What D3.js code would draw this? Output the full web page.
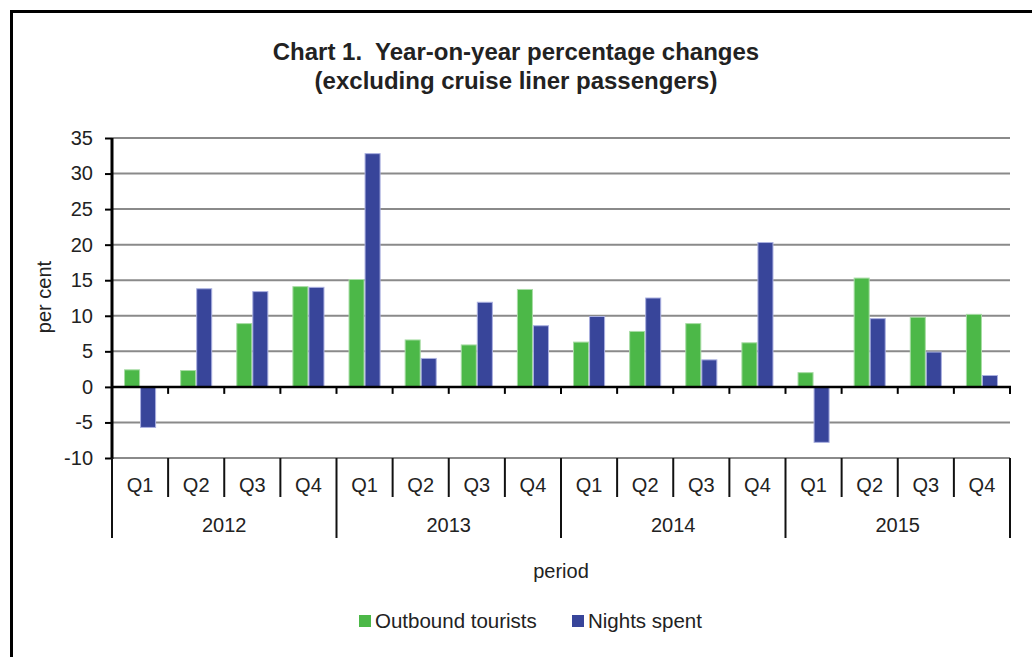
<!DOCTYPE html>
<meta charset="utf-8">
<style>
body { margin: 0; background: #fff; }
text { font-family: "Liberation Sans", Arial, sans-serif; fill: #222; }
.grid line { stroke: #8a8a8a; stroke-width: 2; }
.yaxis path { display: none; }
.yaxis line { stroke: #000; stroke-width: 2; }
</style>
<body>
<svg width="1032" height="657"></svg>

<script src="https://cdnjs.cloudflare.com/ajax/libs/d3/7.8.5/d3.min.js"></script>
<script>

// chart data
var years = ["2012", "2013", "2014", "2015"];
var quarters = ["Q1", "Q2", "Q3", "Q4"];
var seriesNames = ["Outbound tourists", "Nights spent"];
var outbound = [2.4, 2.3, 8.9, 14.1, 15.1, 6.6, 5.9, 13.7, 6.3, 7.8, 8.9, 6.2, 2.0, 15.3, 9.8, 10.2];
var nights = [-5.7, 13.8, 13.4, 14.0, 32.8, 4.0, 11.9, 8.6, 9.9, 12.5, 3.8, 20.3, -7.8, 9.6, 4.9, 1.6];
var yTicks = [-10, -5, 0, 5, 10, 15, 20, 25, 30, 35];

var colors = ["#4cb848", "#38459a"];
var edges = ["#a8dca5", "#aab0e0"];

var svg = d3.select("svg");

// frame round the chart (cut off on right and bottom like the original)
svg.append("rect")
    .attr("x", 11.5).attr("y", 11.5)
    .attr("width", 1100).attr("height", 1000)
    .attr("fill", "none")
    .attr("stroke", "#000")
    .attr("stroke-width", 3);

// title
var title = svg.append("text")
    .attr("text-anchor", "middle")
    .attr("font-weight", "bold")
    .attr("font-size", 24)
    .style("white-space", "pre");
title.append("tspan").attr("x", 516).attr("y", 60).text("Chart 1.  Year-on-year percentage changes");
title.append("tspan").attr("x", 516).attr("y", 89).text("(excluding cruise liner passengers)");

// one entry per period
var periods = [];
years.forEach(function(yr) {
  quarters.forEach(function(q) { periods.push(yr + " " + q); });
});
var rows = periods.map(function(p, i) {
  return { id: p, values: [outbound[i], nights[i]] };
});

var x0 = d3.scaleBand().domain(periods).range([112, 1010]);
var x1 = d3.scaleBand().domain([0, 1]).range([0, x0.bandwidth()]).paddingOuter(0.75);
var y = d3.scaleLinear().domain([-10, 35]).range([458, 138]);

// gridlines
svg.append("g").attr("class", "grid")
  .selectAll("line")
  .data(yTicks.filter(function(d) { return d !== 0; }))
  .enter().append("line")
    .attr("x1", 112).attr("x2", 1010)
    .attr("y1", function(d) { return y(d); })
    .attr("y2", function(d) { return y(d); });

// bars
var group = svg.append("g").selectAll("g")
  .data(rows)
  .enter().append("g")
    .attr("transform", function(d) { return "translate(" + x0(d.id) + ",0)"; });

group.selectAll("rect")
  .data(function(d) { return d.values.map(function(v, k) { return { k: k, v: v }; }); })
  .enter().append("rect")
    .attr("x", function(d) { return x1(d.k) + 0.5; })
    .attr("width", x1.bandwidth() - 1)
    .attr("y", function(d) { return y(Math.max(0, d.v)); })
    .attr("height", function(d) { return Math.abs(y(d.v) - y(0)); })
    .attr("fill", function(d) { return colors[d.k]; })
    .attr("stroke", function(d) { return edges[d.k]; })
    .attr("stroke-width", 1);

// y axis (plain hyphen for negatives, as in the original)
var yAxis = svg.append("g")
    .attr("class", "yaxis")
    .attr("transform", "translate(112,0)")
    .call(d3.axisLeft(y).tickValues(yTicks).tickFormat(String).tickSize(7).tickPadding(12));
yAxis.selectAll("text").attr("font-size", 20).attr("fill", "#222");

svg.append("line")
    .attr("x1", 112).attr("x2", 112)
    .attr("y1", y(35)).attr("y2", y(-10) + 1)
    .attr("stroke", "#000").attr("stroke-width", 3);

// zero line with tick marks
svg.append("line")
    .attr("x1", 111).attr("x2", 1011)
    .attr("y1", y(0)).attr("y2", y(0))
    .attr("stroke", "#000").attr("stroke-width", 2.5);

var bounds = periods.map(function(p) { return x0(p); }).concat([x0.range()[1]]);
svg.append("g").selectAll("line")
  .data(bounds.slice(1))
  .enter().append("line")
    .attr("x1", function(d) { return d; }).attr("x2", function(d) { return d; })
    .attr("y1", y(0)).attr("y2", y(0) + 7)
    .attr("stroke", "#000").attr("stroke-width", 2);

// category labels below the plot
var baseY = y(-10);
svg.append("g").selectAll("line")
  .data(bounds)
  .enter().append("line")
    .attr("x1", function(d) { return d; }).attr("x2", function(d) { return d; })
    .attr("y1", baseY)
    .attr("y2", function(d, i) { return i % 4 === 0 ? 538 : 497; })
    .attr("stroke", "#111").attr("stroke-width", 2);

svg.append("g").selectAll("text")
  .data(periods)
  .enter().append("text")
    .attr("x", function(d) { return x0(d) + x0.bandwidth() / 2; })
    .attr("y", 492)
    .attr("text-anchor", "middle")
    .attr("font-size", 20)
    .text(function(d) { return d.split(" ")[1]; });

svg.append("g").selectAll("text")
  .data(years)
  .enter().append("text")
    .attr("x", function(d) { return (x0(d + " Q1") + x0(d + " Q4") + x0.bandwidth()) / 2; })
    .attr("y", 532)
    .attr("text-anchor", "middle")
    .attr("font-size", 20)
    .text(function(d) { return d; });

// axis titles
svg.append("text")
    .attr("x", 561).attr("y", 578)
    .attr("text-anchor", "middle")
    .attr("font-size", 20)
    .text("period");

svg.append("text")
    .attr("transform", "translate(51,297) rotate(-90)")
    .attr("text-anchor", "middle")
    .attr("font-size", 20)
    .text("per cent");

// legend
var legendX = [359, 572];
var legend = svg.append("g").selectAll("g")
  .data(seriesNames)
  .enter().append("g")
    .attr("transform", function(d, i) { return "translate(" + legendX[i] + ",615)"; });
legend.append("rect")
    .attr("width", 12).attr("height", 12)
    .attr("fill", function(d, i) { return colors[i]; });
legend.append("text")
    .attr("x", 16).attr("y", 13)
    .attr("font-size", 20.5)
    .text(function(d) { return d; });

</script>
</body>
